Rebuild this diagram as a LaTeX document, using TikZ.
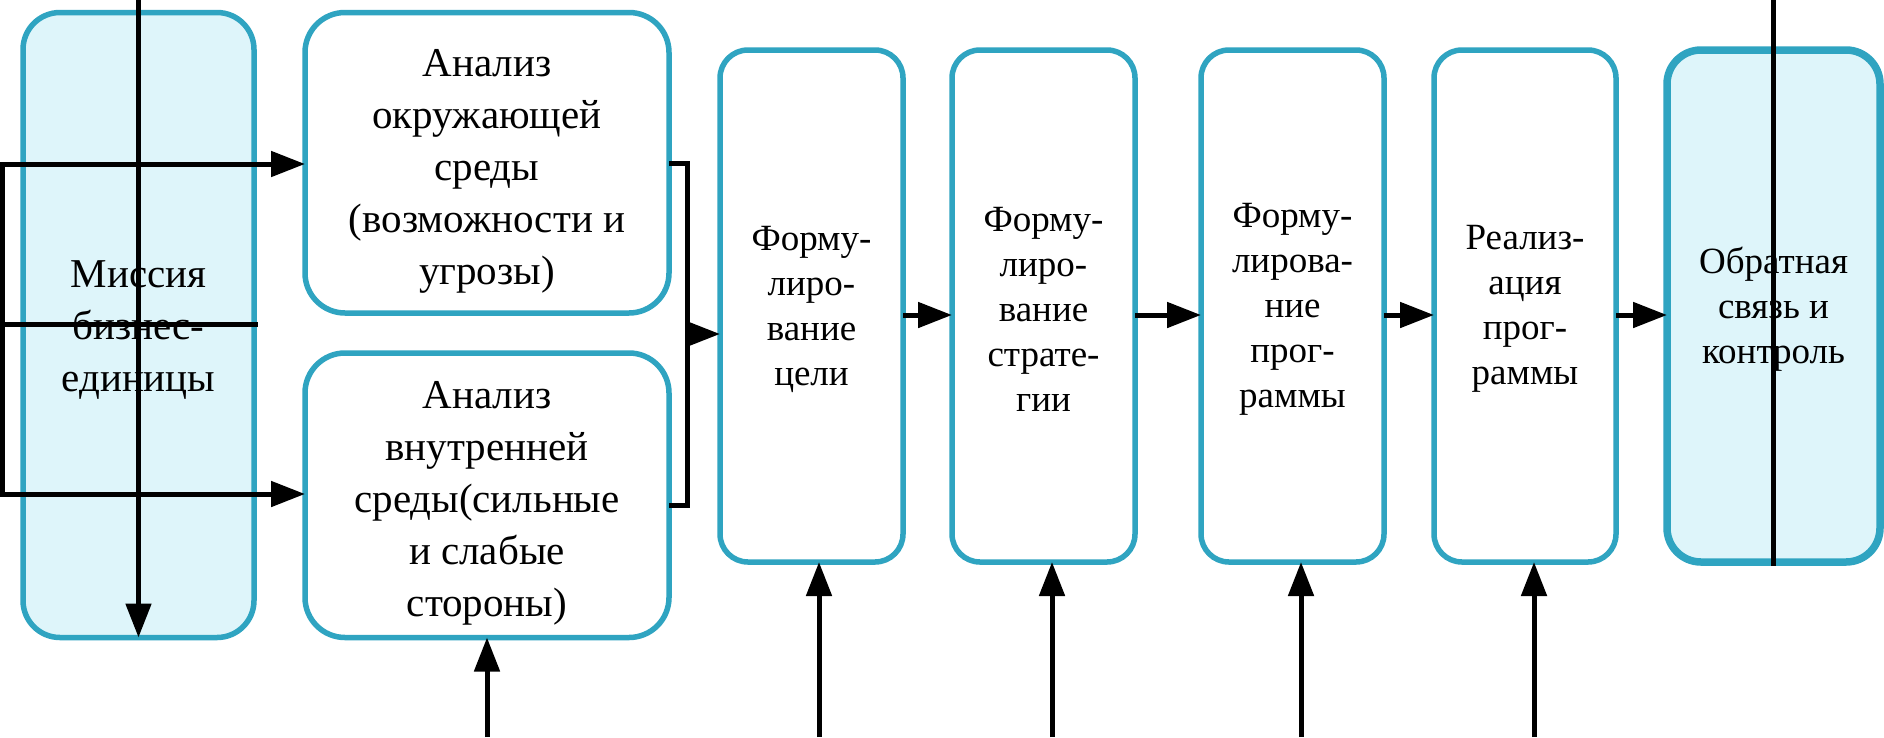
\documentclass[tikz,border=0pt]{standalone}
\usepackage{fontspec}
\setmainfont{Liberation Serif}
\usetikzlibrary{arrows.meta}
\definecolor{tealb}{RGB}{47,164,193}
\definecolor{lightc}{RGB}{222,245,250}
\tikzset{
  stagebox/.style={draw=tealb, line width=5.5pt, rounded corners=28pt, fill=white,
    inner sep=0pt, outer sep=0pt},
  bigbox/.style={draw=tealb, line width=5.5pt, rounded corners=40pt, fill=white,
    inner sep=0pt, outer sep=0pt},
  hlfill/.style={fill=lightc},
  bigtext/.style={inner sep=0pt, align=center, font=\fontsize{41}{52}\selectfont},
  stagetext/.style={inner sep=0pt, align=center, font=\fontsize{37}{45}\selectfont},
  conn/.style={line width=5pt, black},
  arr/.style={conn, -{Triangle[length=34pt,width=25pt]}},
}
\begin{document}
\begin{tikzpicture}[x=1pt,y=-1pt]
\useasboundingbox[fill=white] (0,0) rectangle (1884,737);
% boxes
\node[bigbox, hlfill, rounded corners=37pt, minimum width=231pt, minimum height=625pt] (b1) at (138.5,325) {};
\node[bigbox, minimum width=364pt, minimum height=300.5pt] (b2) at (487,162.75) {};
\node[bigbox, minimum width=364pt, minimum height=284.5pt] (b3) at (487,495.25) {};
\node[stagebox, minimum width=183pt, minimum height=512pt] (b4) at (811.5,306) {};
\node[stagebox, minimum width=183pt, minimum height=512pt] (b5) at (1043.5,306) {};
\node[stagebox, minimum width=183pt, minimum height=512pt] (b6) at (1292.5,306) {};
\node[stagebox, minimum width=182pt, minimum height=512pt] (b7) at (1525,306) {};
\node[stagebox, hlfill, line width=7.5pt, rounded corners=34pt, minimum width=213pt, minimum height=512pt] (b8) at (1773.5,306) {};
% texts
\node[bigtext] (t1) at ([yshift=-5pt]b1.center) {Миссия\\бизнес-\\единицы};
\node[bigtext] (t2) at ([yshift=-9pt]b2.center) {Анализ\\окружающей\\среды\\(возможности и\\угрозы)};
\node[bigtext] (t3) at ([yshift=-8pt]b3.center) {Анализ\\внутренней\\среды(сильные\\и слабые\\стороны)};
\node[stagetext] (t4) at ([yshift=-3pt]b4.center) {Форму-\\лиро-\\вание\\цели};
\node[stagetext] (t5) at ([yshift=-3pt]b5.center) {Форму-\\лиро-\\вание\\страте-\\гии};
\node[stagetext] (t6) at ([yshift=-3pt]b6.center) {Форму-\\лирова-\\ние\\прог-\\раммы};
\node[stagetext] (t7) at ([yshift=-3pt]b7.center) {Реализ-\\ация\\прог-\\раммы};
\node[stagetext] (t8) at ([yshift=-3pt]b8.center) {Обратная\\связь и\\контроль};
% free ends
\coordinate (T1) at (138.5,0);
\coordinate (L1) at (2.5,164);
\coordinate (L2) at (2.5,494);
\coordinate (M1) at (0,324);
\coordinate (M2) at (258,324);
\coordinate (B1) at (687,163);
\coordinate (B2) at (687,505);
\coordinate (B3) at (687,334);
\coordinate (Y) at (0,315);
\coordinate (T8) at (1773.5,0);
\coordinate (U3) at (487,737);
\coordinate (U4) at (819,737);
\coordinate (U5) at (1052,737);
\coordinate (U6) at (1301,737);
\coordinate (U7) at (1534,737);
% connectors
\draw[arr] (T1) -- (b1.south);
\draw[conn, {Triangle[length=34pt,width=25pt]}-{Triangle[length=34pt,width=25pt]}] (L1 -| b2.west) -- (L1) -- (L2) -- (L2 -| b3.west);
\draw[conn] (M1) -- (M2);
\draw[conn] (b2.east |- B1) -- (B1) -- (B2) -- (b3.east |- B2);
\draw[arr] (B3) -- (B3 -| b4.west);
\draw[arr] (b4.east |- Y) -- (b5.west |- Y);
\draw[arr] (b5.east |- Y) -- (b6.west |- Y);
\draw[arr] (b6.east |- Y) -- (b7.west |- Y);
\draw[arr] (b7.east |- Y) -- (b8.west |- Y);
\draw[conn, shorten >=-4pt] (T8) -- (b8.south);
\draw[arr] (U3) -- (b3.south);
\draw[arr] (U4) -- (U4 |- b4.south);
\draw[arr] (U5) -- (U5 |- b5.south);
\draw[arr] (U6) -- (U6 |- b6.south);
\draw[arr] (U7) -- (U7 |- b7.south);
\end{tikzpicture}
\end{document}
